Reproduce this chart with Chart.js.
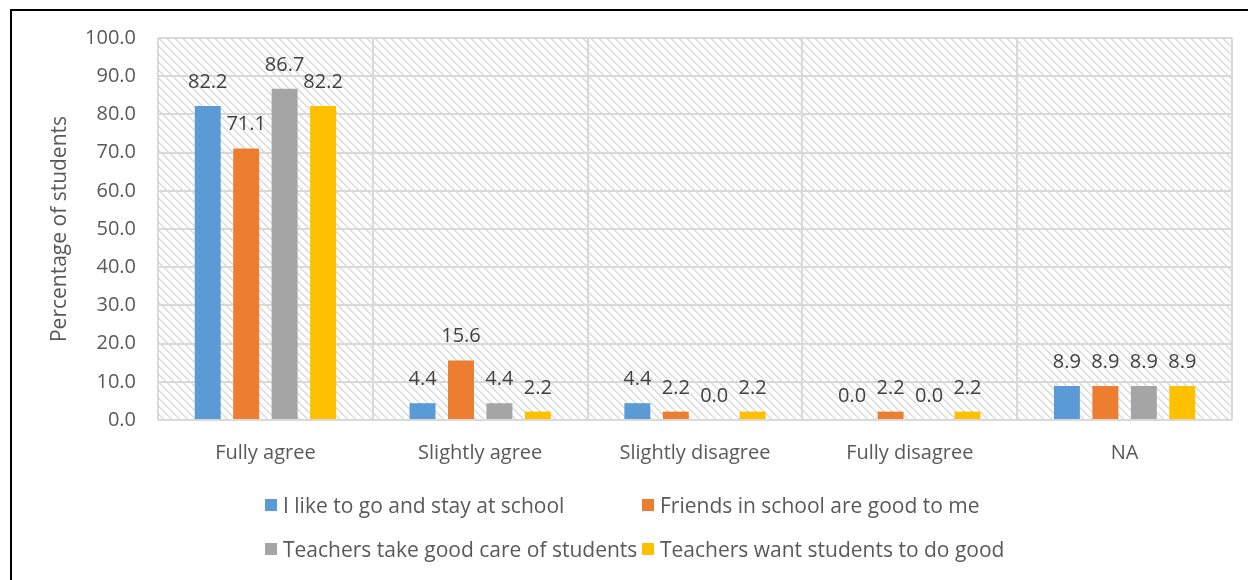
<!DOCTYPE html>
<html>
<head>
<meta charset="utf-8">
<script src="https://cdn.jsdelivr.net/npm/chart.js@4.4.1/dist/chart.umd.min.js"></script>
<style>
  html, body { margin: 0; padding: 0; background: #fff; }
  #wrap { position: relative; width: 1248px; height: 580px; overflow: hidden; }
  #frame { position: absolute; left: 10px; top: 9px; width: 1300px; height: 700px;
           border-left: 2px solid #000; border-top: 2px solid #000; box-sizing: border-box; }
  canvas { position: absolute; left: 0; top: 0; }
  .lg { position: absolute; font-family: "Open Sans", sans-serif; font-size: 21px; color: #595959;
        white-space: nowrap; line-height: 24px; }
</style>
</head>
<body>
<div id="wrap">
  <div id="frame"></div>
  <canvas id="c" width="1248" height="580"></canvas>
  <div id="legend"></div>
</div>
<script>
const categories = ["Fully agree", "Slightly agree", "Slightly disagree", "Fully disagree", "NA"];
const seriesNames = [
  "I like to go and stay at school",
  "Friends in school are good to me",
  "Teachers take good care of students",
  "Teachers want students to do good"
];
const likeSchool = [82.2, 4.4, 4.4, 0.0, 8.9];
const friendsGood = [71.1, 15.6, 2.2, 2.2, 8.9];
const teachersCare = [86.7, 4.4, 0.0, 0.0, 8.9];
const teachersWant = [82.2, 2.2, 2.2, 2.2, 8.9];
const seriesColors = ["#5B9BD5", "#ED7D31", "#A5A5A5", "#FFC000"];
const yTitle = "Percentage of students";

const seriesValues = [likeSchool, friendsGood, teachersCare, teachersWant];
const FONT = "'Open Sans'";

function makePattern(ctx) {
  const p = document.createElement('canvas');
  p.width = 8; p.height = 8;
  const pc = p.getContext('2d');
  pc.fillStyle = '#fff';
  pc.fillRect(0, 0, 8, 8);
  pc.fillStyle = '#dcdcdc';
  for (let y = 0; y < 8; y++) {
    pc.fillRect(y, y, 1, 1);
    pc.fillRect((y + 1) % 8, y, 1, 1);
  }
  return ctx.createPattern(p, 'repeat');
}

const bgPlugin = {
  id: 'bgHatch',
  beforeDraw(chart) {
    const { ctx, chartArea: a } = chart;
    ctx.save();
    ctx.fillStyle = makePattern(ctx);
    ctx.fillRect(a.left, a.top, a.right - a.left, a.bottom - a.top);
    ctx.restore();
  }
};

const labelPlugin = {
  id: 'valueLabels',
  afterDatasetsDraw(chart) {
    const { ctx } = chart;
    ctx.save();
    ctx.font = "20px 'Open Sans'";
    ctx.fillStyle = '#404040';
    ctx.textAlign = 'center';
    ctx.textBaseline = 'alphabetic';
    chart.data.datasets.forEach((ds, i) => {
      const meta = chart.getDatasetMeta(i);
      meta.data.forEach((bar, j) => {
        ctx.fillText(ds.data[j].toFixed(1), bar.x, bar.y - 18);
      });
    });
    ctx.restore();
  }
};

const ctx = document.getElementById('c').getContext('2d');
const chart = new Chart(ctx, {
  type: 'bar',
  data: {
    labels: categories,
    datasets: seriesNames.map((name, i) => ({
      label: name,
      data: seriesValues[i],
      backgroundColor: seriesColors[i],
      borderWidth: 0,
      categoryPercentage: 0.716,
      barPercentage: 0.675
    }))
  },
  options: {
    responsive: false,
    animation: false,
    layout: { padding: { top: 38, right: 16, bottom: 0, left: 0 } },
    plugins: { legend: { display: false }, tooltip: { enabled: false } },
    scales: {
      x: {
        grid: { color: '#d9d9d9', lineWidth: 2, drawTicks: false, offset: true },
        border: { display: false },
        ticks: { color: '#595959', font: { family: FONT, size: 20 }, padding: 21, maxRotation: 0 },
        afterFit(s) { s.height = 160; }
      },
      y: {
        min: 0, max: 100,
        ticks: { stepSize: 10, color: '#595959', font: { family: FONT, size: 20 }, padding: 22,
                 callback: v => Number(v).toFixed(1) },
        grid: { color: '#d9d9d9', lineWidth: 2, drawTicks: false },
        border: { display: false },
        title: { display: true, text: yTitle, color: '#595959',
                 font: { family: FONT, size: 21 }, padding: { top: 47, bottom: 0 } },
        afterFit(s) { s.width = 158; }
      }
    }
  },
  plugins: [bgPlugin, labelPlugin]
});

const legendPos = [
  { bx: 265, tx: 283, cy: 505 },
  { bx: 642, tx: 660, cy: 505 },
  { bx: 265, tx: 283, cy: 549 },
  { bx: 642, tx: 660, cy: 549 }
];
const lg = document.getElementById('legend');
seriesNames.forEach((name, i) => {
  const p = legendPos[i];
  const box = document.createElement('div');
  box.style.cssText = `position:absolute;left:${p.bx}px;top:${p.cy - 6}px;width:12px;height:12px;background:${seriesColors[i]}`;
  lg.appendChild(box);
  const t = document.createElement('div');
  t.className = 'lg';
  t.style.left = p.tx + 'px';
  t.style.top = (p.cy - 12) + 'px';
  t.textContent = name;
  lg.appendChild(t);
});
</script>
</body>
</html>
